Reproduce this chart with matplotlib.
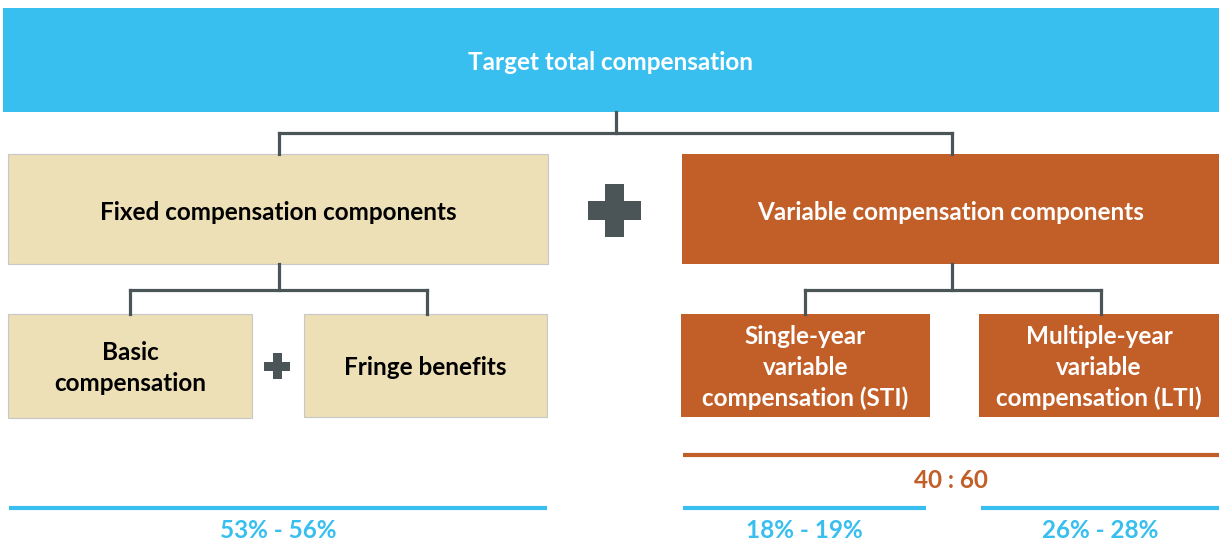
import matplotlib.pyplot as plt
from matplotlib.patches import Rectangle, Polygon

# labels and shares
top_label = "Target total compensation"
level2_labels = ["Fixed compensation components", "Variable compensation components"]
level3_labels = ["Basic\ncompensation", "Fringe benefits",
                 "Single-year\nvariable\ncompensation (STI)",
                 "Multiple-year\nvariable\ncompensation (LTI)"]
share_labels = ["53% - 56%", "18% - 19%", "26% - 28%"]
ratio_label = "40 : 60"

BLUE = "#38BFEF"
BEIGE = "#EDDFB6"
ORANGE = "#C25E27"
GREY = "#4B5456"
EDGE = "#C8C8C8"
FS = 17.5

plt.rcParams['font.family'] = ['Lato', 'DejaVu Sans']

fig = plt.figure(figsize=(12.19, 5.42), dpi=100)
ax = fig.add_axes([0, 0, 1, 1])
ax.set_xlim(0, 1219)
ax.set_ylim(542, 0)
ax.axis('off')


def box(x0, y0, x1, y1, color, text, tcolor, edge=EDGE, dy=2):
    ax.add_patch(Rectangle((x0, y0), x1 - x0, y1 - y0, facecolor=color,
                           edgecolor=edge, linewidth=0.8))
    ax.text((x0 + x1) / 2, (y0 + y1) / 2 + dy, text, ha='center', va='center',
            color=tcolor, fontsize=FS, fontweight='bold', linespacing=1.4)


def connector(xp, y0, ymid, xl, xr, y1):
    kw = dict(color=GREY, linewidth=2.3, solid_capstyle='projecting')
    ax.plot([xp, xp], [y0, ymid], **kw)
    ax.plot([xl, xr], [ymid, ymid], **kw)
    ax.plot([xl, xl], [ymid, y1], **kw)
    ax.plot([xr, xr], [ymid, y1], **kw)


def plus(cx, cy, size, arm):
    h, a = size / 2, arm / 2
    pts = [(cx - a, cy - h), (cx + a, cy - h), (cx + a, cy - a), (cx + h, cy - a),
           (cx + h, cy + a), (cx + a, cy + a), (cx + a, cy + h), (cx - a, cy + h),
           (cx - a, cy + a), (cx - h, cy + a), (cx - h, cy - a), (cx - a, cy - a)]
    ax.add_patch(Polygon(pts, closed=True, facecolor=GREY, edgecolor='none'))


# level 1
box(3, 8, 1219, 112, BLUE, top_label, 'white', edge='none', dy=3)
connector(616, 112, 133, 279, 952, 154)

# level 2
box(8, 154, 548, 264, BEIGE, level2_labels[0], 'black', dy=3)
box(682, 154, 1219, 264, ORANGE, level2_labels[1], 'white', edge='none', dy=3)
plus(614, 210, 53, 19)

# level 3
connector(279, 264, 290, 130, 427, 314)
connector(952, 264, 290, 805, 1101, 314)
box(8, 314, 252, 418, BEIGE, level3_labels[0], 'black')
box(304, 314, 547, 417, BEIGE, level3_labels[1], 'black')
box(681, 314, 930, 417, ORANGE, level3_labels[2], 'white', edge='none')
box(979, 314, 1219, 417, ORANGE, level3_labels[3], 'white', edge='none')
plus(277, 366, 26, 9)

# ratio bar
ax.plot([683, 1219], [455, 455], color=ORANGE, linewidth=3, solid_capstyle='butt')
ax.text(951, 480, ratio_label, ha='center', va='center', color=ORANGE,
        fontsize=FS, fontweight='bold')

# share bars
share_spans = [(9, 547), (683, 926), (981, 1219)]
for (x0, x1), lab in zip(share_spans, share_labels):
    ax.plot([x0, x1], [508, 508], color=BLUE, linewidth=3, solid_capstyle='butt')
    ax.text((x0 + x1) / 2, 531, lab, ha='center', va='center', color=BLUE,
            fontsize=FS, fontweight='bold')

fig.savefig('out.png', dpi=100)
